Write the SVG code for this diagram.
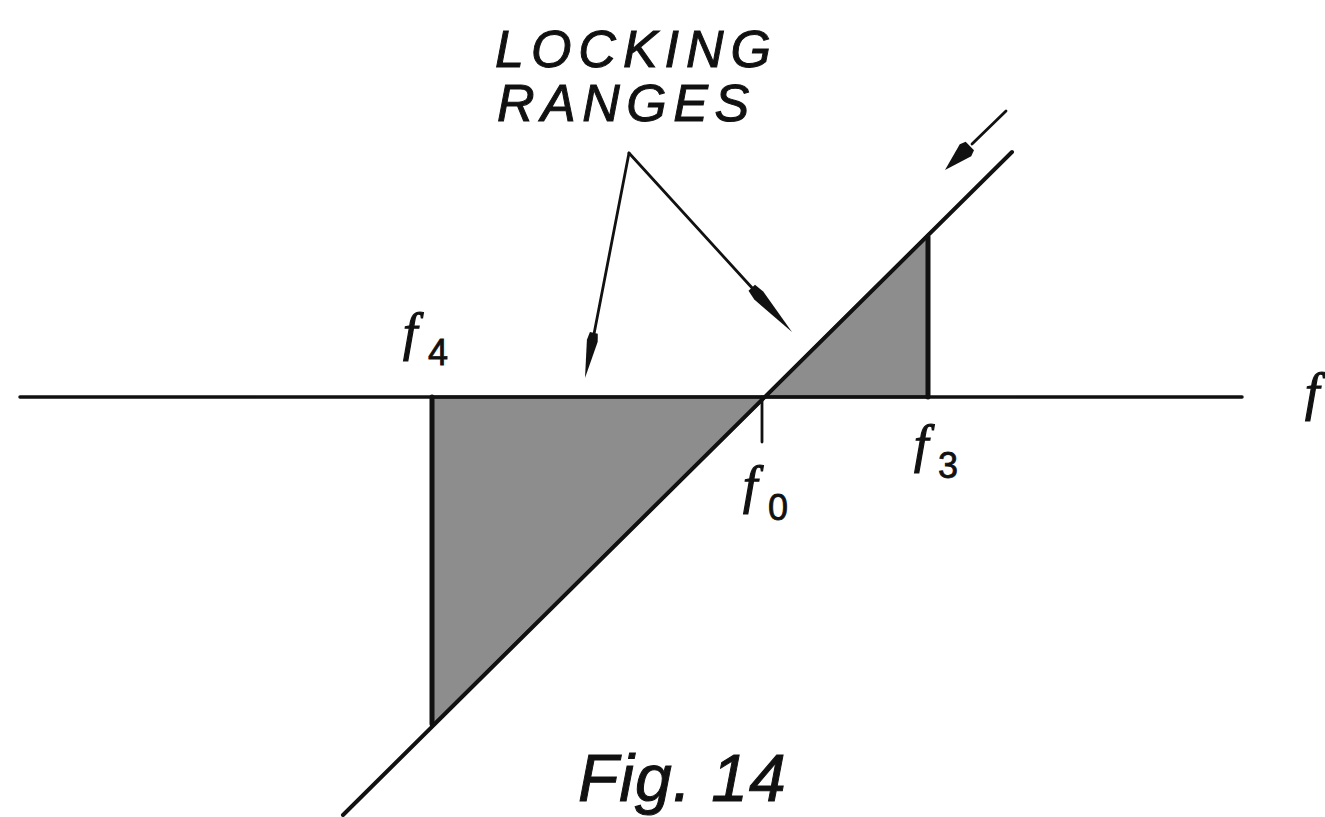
<svg xmlns="http://www.w3.org/2000/svg" xmlns:xlink="http://www.w3.org/1999/xlink" width="1325" height="817" viewBox="0 0 1325 817">
<style>
.ln{stroke:#111;fill:none;stroke-linecap:round}
.shade{fill:#8d8d8d;stroke:#111;stroke-width:3;stroke-linejoin:miter}
.dart{fill:#111}
.cap{font-family:"Liberation Sans",Arial,sans-serif;font-style:italic;fill:#111;stroke:#111;stroke-width:1}
.fv{font-family:"Liberation Serif","Times New Roman",serif;font-style:italic;font-size:52px;fill:#111;stroke:#111;stroke-width:1.2}
.sub{font-family:"Liberation Sans",Arial,sans-serif;font-size:36px;fill:#111;stroke:#111;stroke-width:0.8}
</style>
<defs>
<path id="dart" d="M0,0 L-38,-5.5 L-46,-4 L-46,4 L-38,5.5 Z"/>
</defs>
<rect width="1325" height="817" fill="#fff"/>
<g id="shaded-regions">
<polygon class="shade" points="432,397 765,397 432,726"/>
<polygon class="shade" points="765,397 928,397 928,235"/>
<line class="ln" x1="432" y1="397" x2="432" y2="724" stroke-width="5"/>
<line class="ln" x1="928" y1="397" x2="928" y2="237" stroke-width="5"/>
</g>
<g id="axes">
<line class="ln" x1="20" y1="397" x2="1242" y2="397" stroke-width="3.5"/>
<line class="ln" x1="343" y1="815" x2="1012" y2="152" stroke-width="4"/>
<line class="ln" x1="762" y1="397" x2="762" y2="442" stroke-width="2.8"/>
</g>
<g id="connectors">
<line class="ln" x1="629" y1="153" x2="594" y2="334" stroke-width="2.8"/>
<line class="ln" x1="629" y1="153" x2="754" y2="290" stroke-width="2.8"/>
<line class="ln" x1="1006" y1="111" x2="972" y2="144" stroke-width="2.8"/>
<use xlink:href="#dart" class="dart" transform="translate(585,378) rotate(101.1)"/>
<use xlink:href="#dart" class="dart" transform="translate(792,332) rotate(47.7) scale(1.3,1.1)"/>
<use xlink:href="#dart" class="dart" transform="translate(945,170) rotate(136) scale(0.75,1.5)"/>
</g>
<g id="label-locking">
<text class="cap" x="495" y="67" font-size="52" letter-spacing="7">LOCKING</text>
<text class="cap" x="497" y="121" font-size="52" letter-spacing="6.5">RANGES</text>
</g>
<g id="label-f4"><text class="fv" x="403" y="350">f</text><text class="sub" x="428" y="365">4</text></g>
<g id="label-f0"><text class="fv" x="743" y="503">f</text><text class="sub" x="768" y="520">0</text></g>
<g id="label-f3"><text class="fv" x="914" y="462">f</text><text class="sub" x="938" y="478">3</text></g>
<g id="label-f"><text class="fv" x="1305" y="410">f</text></g>
<g id="caption"><text class="cap" x="578" y="801" font-size="66" letter-spacing="1">Fig. 14</text></g>
</svg>
